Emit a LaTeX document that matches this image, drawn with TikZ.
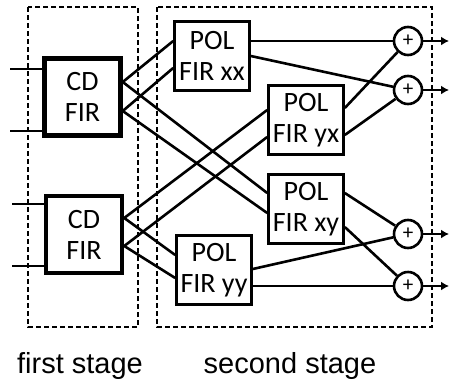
\documentclass[tikz,border=0pt]{standalone}
\usepackage{fontspec}
\setmainfont{Carlito}
\newfontfamily\labfont{Liberation Sans}
\usetikzlibrary{arrows.meta}
\begin{document}
\begin{tikzpicture}[x=1pt,y=-1pt,
  conn/.style={line width=2.6pt},
  stagebox/.style={draw, line width=1.2pt, dash pattern=on 5pt off 3pt},
  cdbox/.style={draw, line width=4.5pt, minimum width=76pt, minimum height=77pt, inner sep=0pt, align=center, font=\fontsize{28}{31}\selectfont},
  polbox/.style={draw, line width=2.6pt, minimum width=75pt, minimum height=69pt, inner sep=0pt, align=center, font=\fontsize{28}{31}\selectfont},
  adder/.style={draw, circle, line width=2.6pt, minimum size=28pt, inner sep=0pt, font=\fontsize{21}{21}\selectfont},
  outarrow/.style={line width=2.6pt, -{Latex[length=8pt,width=9pt]}},
  lab/.style={font=\labfont\fontsize{29}{29}\selectfont}
]
\useasboundingbox (0,0) rectangle (449,383);
% stages
\draw[stagebox] (28,7) rectangle (138,327);
\draw[stagebox] (157,7) rectangle (432,327);
% CD FIR
\node[cdbox] (cd1) at (82.5,97) {CD\\FIR};
\node[cdbox] (cd2) at (84,234.5) {CD\\FIR};
% POL FIR
\node[polbox] (xx) at (212,56) {POL\\FIR xx};
\node[polbox] (yx) at (306,120) {POL\\FIR yx};
\node[polbox] (xy) at (306,209) {POL\\FIR xy};
\node[polbox] (yy) at (214,270) {POL\\FIR yy};
% adders
\node[adder] (a1) at (408,41) {+};
\node[adder] (a2) at (408,90) {+};
\node[adder] (a3) at (408,234) {+};
\node[adder] (a4) at (408,286) {+};
% input ends
\coordinate (i1) at (10,69);
\coordinate (i2) at (10,131);
\coordinate (i3) at (12,204);
\coordinate (i4) at (12,266);
% output ends
\coordinate (o1) at (449,41);
\coordinate (o2) at (449,90);
\coordinate (o3) at (449,234);
\coordinate (o4) at (449,286);
% inputs
\draw[conn] (i1) -- (cd1.west |- i1);
\draw[conn] (i2) -- (cd1.west |- i2);
\draw[conn] (i3) -- (cd2.west |- i3);
\draw[conn] (i4) -- (cd2.west |- i4);
% first to second stage
\draw[conn] ([yshift=15pt]cd1.east) -- ([yshift=15pt]xx.west);
\draw[conn] ([yshift=-14pt]cd1.east) -- ([yshift=-12pt]xx.west);
\draw[conn] ([yshift=15pt]cd1.east) -- ([yshift=16pt]xy.west);
\draw[conn] ([yshift=-14pt]cd1.east) -- ([yshift=-4pt]xy.west);
\draw[conn] ([yshift=16.5pt]cd2.east) -- ([yshift=10pt]yx.west);
\draw[conn] ([yshift=-11.5pt]cd2.east) -- ([yshift=-17pt]yx.west);
\draw[conn] ([yshift=16.5pt]cd2.east) -- ([yshift=15pt]yy.west);
\draw[conn] ([yshift=-11.5pt]cd2.east) -- ([yshift=-8pt]yy.west);
% POL to adders
\draw[conn] (xx.east |- a1) -- (a1);
\draw[conn] (xx.east) -- (a2);
\draw[conn] ([yshift=12pt]yx.east) -- (a1);
\draw[conn] ([yshift=-15pt]yx.east) -- (a2);
\draw[conn] ([yshift=16pt]xy.east) -- (a3);
\draw[conn] ([yshift=-18pt]xy.east) -- (a4);
\draw[conn] ([yshift=1pt]yy.east) -- (a3);
\draw[conn] (yy.east |- a4) -- (a4);
% outputs
\draw[outarrow] (a1) -- (o1);
\draw[outarrow] (a2) -- (o2);
\draw[outarrow] (a3) -- (o3);
\draw[outarrow] (a4) -- (o4);
% labels
\node[lab] (l1) at (80,366) {first stage};
\node[lab] (l2) at (290,366) {second stage};
\end{tikzpicture}
\end{document}
